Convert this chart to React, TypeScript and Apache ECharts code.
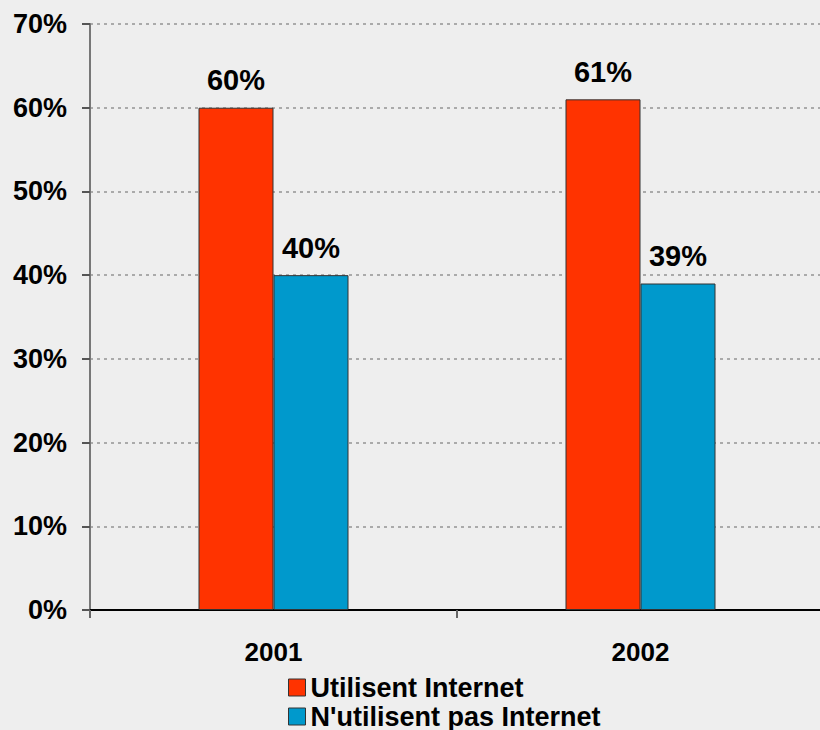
import React, { useEffect, useRef } from "react";
import * as echarts from "echarts";

const categories = ["2001", "2002"];
const utilisent = [60, 61];
const nUtilisentPas = [40, 39];
const seriesNames = ["Utilisent Internet", "N'utilisent pas Internet"];
const seriesColors = ["#ff3300", "#0099cc"];
const yTicks = { min: 0, max: 70, interval: 10 };

export default function App() {
  const ref = useRef<HTMLDivElement>(null);
  useEffect(() => {
    if (!ref.current) return;
    const chart = echarts.init(ref.current, null, { renderer: "svg" });
    const font = "Liberation Sans, Arial, sans-serif";
    const labelStyle = {
      show: true,
      position: "top" as const,
      distance: 13,
      formatter: "{c}%",
      fontFamily: font,
      fontWeight: "bold" as const,
      fontSize: 29,
      color: "#000",
    };
    const legendBase = {
      orient: "vertical" as const,
      left: 283,
      itemWidth: 17,
      itemHeight: 17,
      itemGap: 0,
      icon: "rect",
      textStyle: { fontFamily: font, fontWeight: "bold" as const, fontSize: 27, color: "#000" },
    };
    chart.setOption({
      animation: false,
      backgroundColor: "#eeeeee",
      textStyle: { fontFamily: font },
      grid: { left: 90, width: 734, top: 24, bottom: 120, containLabel: false, outerBoundsMode: "none" },
      legend: [
        {
          ...legendBase,
          top: 669,
          data: [{ name: seriesNames[0], itemStyle: { borderColor: "#333", borderWidth: 1 } }],
        },
        {
          ...legendBase,
          top: 698,
          data: [{ name: seriesNames[1], itemStyle: { borderColor: "#333", borderWidth: 1 } }],
        },
      ],
      xAxis: {
        type: "category",
        data: categories,
        axisLine: { lineStyle: { color: "#000", width: 2 } },
        axisTick: { show: true, length: 8, lineStyle: { color: "#666", width: 2 } },
        axisLabel: { fontFamily: font, fontWeight: "bold", fontSize: 26, color: "#000", margin: 29 },
      },
      yAxis: {
        type: "value",
        min: yTicks.min,
        max: yTicks.max,
        interval: yTicks.interval,
        axisLine: { show: true, lineStyle: { color: "#777", width: 2 } },
        axisTick: { show: true, length: 8, lineStyle: { color: "#555", width: 2 } },
        axisLabel: { formatter: "{value}%", fontFamily: font, fontWeight: "bold", fontSize: 27, color: "#000", margin: 23 },
        splitLine: { show: true, lineStyle: { color: "#aaaaaa", type: [3, 4], width: 2 } },
      },
      series: [
        {
          name: seriesNames[0],
          type: "bar",
          data: utilisent,
          barWidth: 75,
          barGap: "0%",
          itemStyle: { color: seriesColors[0], borderColor: "#333", borderWidth: 1 },
          label: labelStyle,
        },
        {
          name: seriesNames[1],
          type: "bar",
          data: nUtilisentPas,
          barWidth: 75,
          barGap: "0%",
          itemStyle: { color: seriesColors[1], borderColor: "#333", borderWidth: 1 },
          label: labelStyle,
        },
      ],
    });
    return () => chart.dispose();
  }, []);
  return <div ref={ref} style={{ position: "fixed", left: 0, top: 0, width: 820, height: 730 }} />;
}
